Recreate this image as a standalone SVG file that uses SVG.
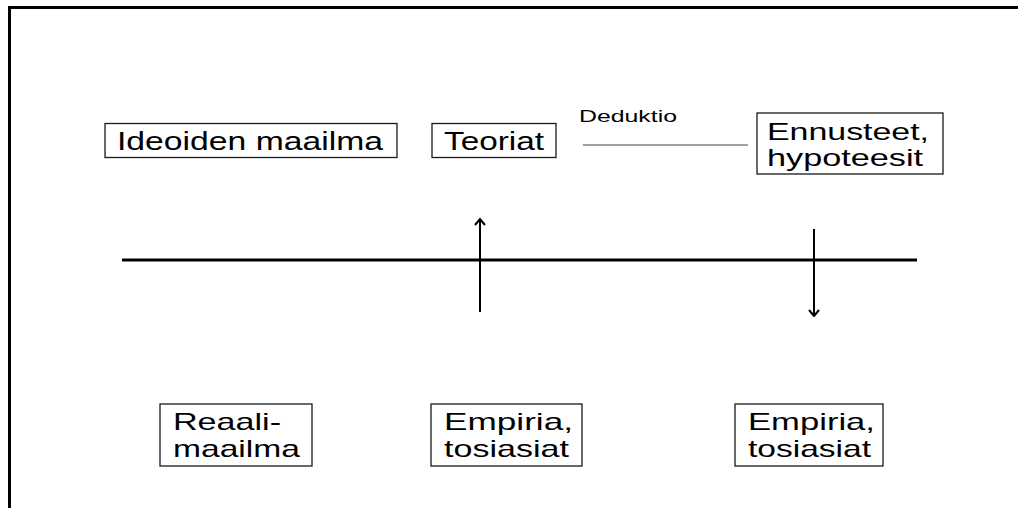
<svg xmlns="http://www.w3.org/2000/svg" width="1018" height="508" viewBox="0 0 1018 508">
  <defs>
    <style>
      .box { fill: #ffffff; stroke: #1a1a1a; stroke-width: 1.3; }
      .lbl { font-family: "Liberation Sans", Arial, sans-serif; font-size: 25px; fill: #000000; }
      .lbl2 { font-family: "Liberation Sans", Arial, sans-serif; font-size: 24px; fill: #000000; }
      .small { font-family: "Liberation Sans", Arial, sans-serif; font-size: 16px; fill: #000000; }
      .frame { stroke: #000000; stroke-width: 3; fill: none; }
      .axis { stroke: #000000; stroke-width: 3; fill: none; }
      .arrow { stroke: #000000; stroke-width: 2; fill: none; }
      .thin { stroke: #808080; stroke-width: 1.3; fill: none; }
    </style>
    <!-- open chevron head, drawn pointing along +x -->
    <marker id="chev" viewBox="0 0 10 12" refX="9" refY="6" markerWidth="10" markerHeight="12" markerUnits="userSpaceOnUse" orient="auto">
      <polyline points="3,1 9,6 3,11" fill="none" stroke="#000000" stroke-width="2"/>
    </marker>
  </defs>

  <rect width="1018" height="508" fill="#ffffff"/>

  <!-- slide frame -->
  <path class="frame" d="M9.5,508 V7.5 H1018"/>

  <!-- connectors -->
  <g id="connectors">
    <line class="axis" x1="122" y1="260" x2="917" y2="260"/>
    <line class="arrow" x1="480" y1="312" x2="480" y2="219" marker-end="url(#chev)"/>
    <line class="arrow" x1="814" y1="229" x2="814" y2="316" marker-end="url(#chev)"/>
    <line class="thin" x1="583" y1="145" x2="748" y2="145"/>
  </g>

  <g id="deduktio">
    <text class="small" x="579" y="122" textLength="98" lengthAdjust="spacingAndGlyphs">Deduktio</text>
  </g>

  <g id="ideoiden-maailma">
    <rect class="box" x="105" y="123.5" width="292" height="34"/>
    <text class="lbl" x="117" y="149.5" textLength="266" lengthAdjust="spacingAndGlyphs">Ideoiden maailma</text>
  </g>

  <g id="teoriat">
    <rect class="box" x="432" y="123.5" width="124" height="34"/>
    <text class="lbl" x="444" y="149.5" textLength="100" lengthAdjust="spacingAndGlyphs">Teoriat</text>
  </g>

  <g id="ennusteet">
    <rect class="box" x="757" y="113" width="186" height="61"/>
    <text class="lbl2" x="767" y="140" textLength="162" lengthAdjust="spacingAndGlyphs">Ennusteet,</text>
    <text class="lbl2" x="767" y="166" textLength="156" lengthAdjust="spacingAndGlyphs">hypoteesit</text>
  </g>

  <g id="reaalimaailma">
    <rect class="box" x="160" y="404" width="152" height="62"/>
    <text class="lbl2" x="173" y="430" textLength="108" lengthAdjust="spacingAndGlyphs">Reaali-</text>
    <text class="lbl2" x="173" y="457" textLength="127" lengthAdjust="spacingAndGlyphs">maailma</text>
  </g>

  <g id="empiria-1">
    <rect class="box" x="431" y="404" width="151" height="62"/>
    <text class="lbl2" x="444" y="430" textLength="129" lengthAdjust="spacingAndGlyphs">Empiria,</text>
    <text class="lbl2" x="444" y="457" textLength="125" lengthAdjust="spacingAndGlyphs">tosiasiat</text>
  </g>

  <g id="empiria-2">
    <rect class="box" x="735" y="404" width="148" height="62"/>
    <text class="lbl2" x="748" y="430" textLength="127" lengthAdjust="spacingAndGlyphs">Empiria,</text>
    <text class="lbl2" x="748" y="457" textLength="123" lengthAdjust="spacingAndGlyphs">tosiasiat</text>
  </g>
</svg>
